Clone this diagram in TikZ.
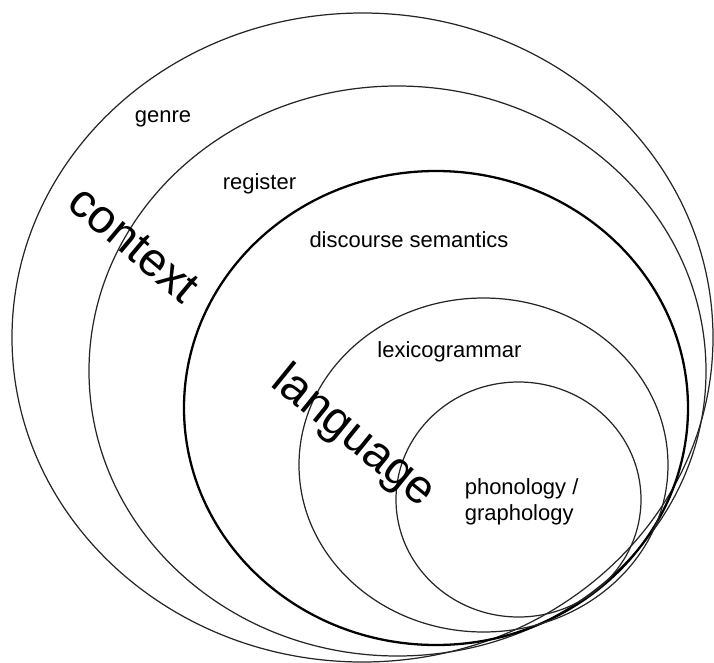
\documentclass[tikz,border=0pt]{standalone}
\usepackage{fontspec}
\setmainfont{Liberation Sans}
\begin{document}
\begin{tikzpicture}[x=0.02cm,y=-0.02cm]
    \tikzstyle{every node}=[inner sep=0pt,font=\fontsize{12.5}{14.8}\selectfont];
    \tikzstyle{ring}=[draw=black!85,line width=0.7pt];
    \tikzstyle{thickring}=[draw=black,line width=1.3pt];
    \tikzstyle{bigword}=[font=\fontsize{27}{30}\selectfont];
    \useasboundingbox (0,0) rectangle (714,663);

    % nested strata
    \draw[ring] (362.5,337.5) ellipse (350.5 and 324.5);
    \draw[ring] (397.5,371) ellipse (308.5 and 285);
    \draw[thickring] (436,408) ellipse (252 and 237);
    \draw[ring] (483.5,465) ellipse (184.5 and 167);
    \draw[ring] (518.5,499.5) ellipse (122.5 and 117.5);

    \node at (163,122.5) (genre) [anchor=base] {genre};
    \node at (259.5,189) (register) [anchor=base] {register};
    \node at (409,247) (discsem) [anchor=base] {discourse semantics};
    \node at (449.5,357) (lexgram) [anchor=base] {lexicogrammar};
    \node at (464.5,520) (phon) [anchor=base west,align=left] {phonology /\\graphology};

    \node at (134,244) (context) [bigword,rotate=-40] {context};
    \node at (353,437) (language) [bigword,rotate=-39] {language};
\end{tikzpicture}
\end{document}
